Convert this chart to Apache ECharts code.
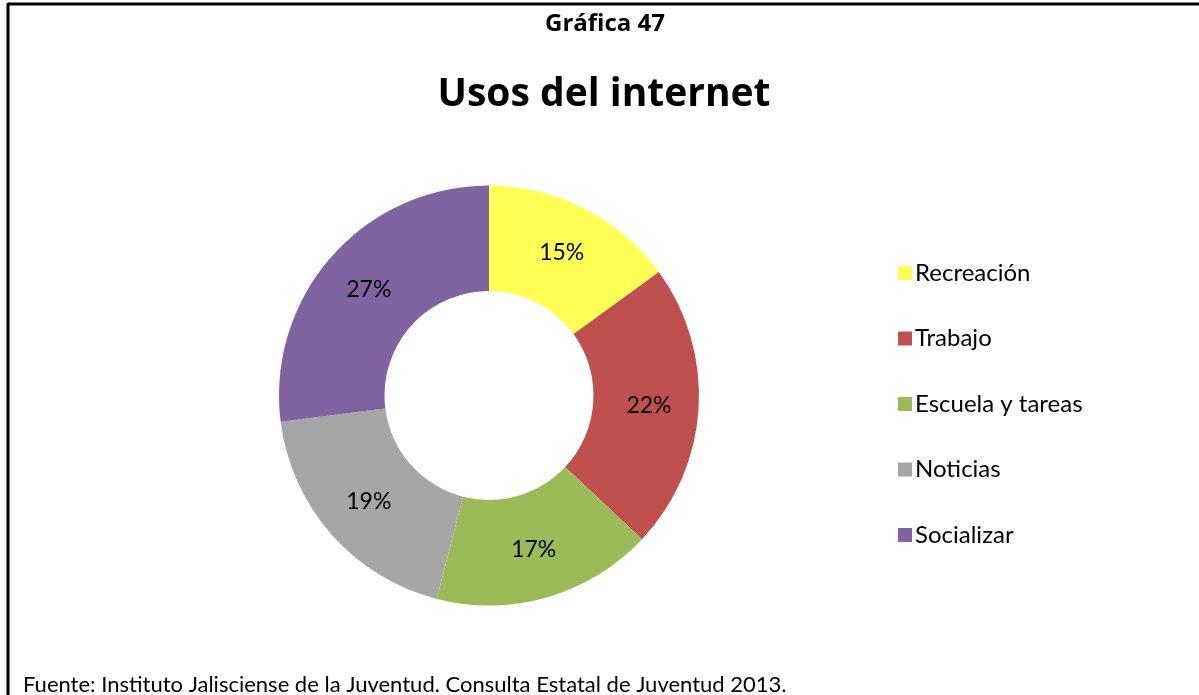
<!DOCTYPE html>
<html>
<head>
<meta charset="utf-8">
<script src="https://cdn.jsdelivr.net/npm/echarts@6/dist/echarts.min.js"></script>
<style>
  html, body { margin: 0; padding: 0; background: #fff; }
  #chart { width: 1199px; height: 695px; }
</style>
</head>
<body>
<div id="chart"></div>
<script>
// Internet usage shares
const categories = ['Recreación', 'Trabajo', 'Escuela y tareas', 'Noticias', 'Socializar'];
const shares = [15, 22, 17, 19, 27];
const colors = ['#FFFF55', '#C0504D', '#9BBB59', '#A6A6A6', '#8064A2'];

const FONT = 'Lato, "Open Sans", sans-serif';
const BOLD_FONT = '"Open Sans", Lato, sans-serif';

const chart = echarts.init(document.getElementById('chart'), null, { renderer: 'canvas' });

chart.setOption({
  animation: false,
  color: colors,
  title: [
    {
      text: 'Gráfica 47',
      left: 600, top: 7, textAlign: 'center',
      textStyle: { fontFamily: BOLD_FONT, fontWeight: 'bold', fontSize: 24, color: '#000' }
    },
    {
      text: 'Usos del internet',
      left: 599, top: 70, textAlign: 'center',
      textStyle: { fontFamily: BOLD_FONT, fontWeight: 'bold', fontSize: 39, color: '#000' }
    },
    {
      text: 'Fuente: Instituto Jalisciense de la Juventud. Consulta Estatal de Juventud 2013.',
      left: 18, top: 669,
      textStyle: { fontFamily: FONT, fontWeight: 'normal', fontSize: 22, color: '#000' }
    }
  ],
  legend: {
    orient: 'vertical',
    left: 893, top: 256,
    itemWidth: 14, itemHeight: 14, itemGap: 41.5,
    icon: 'rect',
    textStyle: { fontFamily: FONT, fontSize: 24, lineHeight: 24, color: '#000', padding: [0, 0, 0, -2] },
    data: categories
  },
  graphic: [
    { type: 'line', shape: { x1: 8, y1: 4, x2: 1199, y2: 4 }, style: { stroke: '#000', lineWidth: 3 } },
    { type: 'line', shape: { x1: 8, y1: 3, x2: 8, y2: 695 }, style: { stroke: '#000', lineWidth: 3 } }
  ],
  series: [{
    type: 'pie',
    center: [489, 395.5],
    radius: [104.5, 210],
    startAngle: 90,
    clockwise: true,
    avoidLabelOverlap: false,
    itemStyle: { borderWidth: 0 },
    label: {
      show: true,
      position: 'inside',
      formatter: '{c}%',
      fontFamily: FONT, fontSize: 23, color: '#000'
    },
    labelLine: { show: false },
    emphasis: { disabled: true },
    data: categories.map((name, i) => ({ name, value: shares[i] }))
  }]
});
</script>
</body>
</html>
